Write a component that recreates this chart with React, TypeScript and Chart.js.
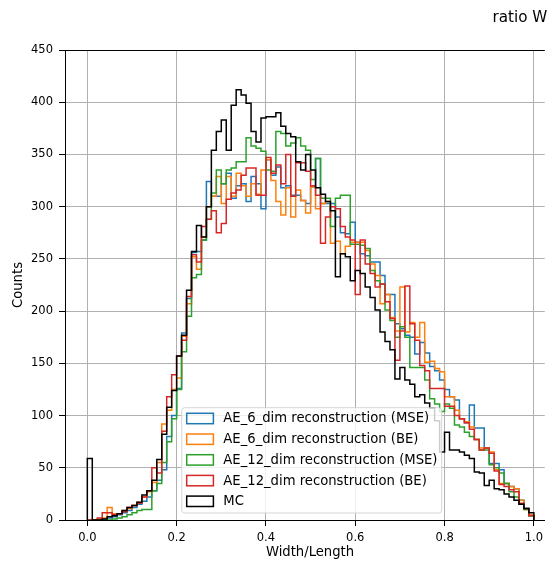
import React, { useEffect, useRef } from "react";
import { Chart, registerables } from "chart.js";

Chart.register(...registerables);

// ---- data (90 equal bins from 0 to 1) ----
const binStart = 0;
const binEnd = 1;

const seriesLabels = [
  "AE_6_dim reconstruction (MSE)",
  "AE_6_dim reconstruction (BE)",
  "AE_12_dim reconstruction (MSE)",
  "AE_12_dim reconstruction (BE)",
  "MC",
];

const seriesColors = ["#1f77b4", "#ff7f0e", "#2ca02c", "#d62728", "#000000"];

const ae6Mse = [
  0, 0, 0, 1, 2, 3, 5, 7, 9, 12, 15, 18, 22, 28, 38, 48, 80, 100,
  126, 179, 212, 256, 257, 268, 324, 310, 310, 322, 332, 308, 320, 322, 305, 329, 322,
  298, 345, 330, 338, 318, 320, 311, 311, 306, 303, 319, 346, 303, 303, 303, 290, 275, 274,
  285, 266, 255, 253, 247, 247, 234, 216, 216, 188, 183, 177, 175, 159, 170, 160, 147,
  143, 134, 125, 118, 115, 97, 93, 110, 88, 88, 69, 54, 54, 48, 35, 32, 30, 19, 11, 4,
];

const ae6Be = [
  0, 0, 1, 2, 12, 6, 6, 9, 11, 14, 17, 22, 27, 36, 55, 92, 105, 125,
  136, 176, 207, 252, 240, 271, 300, 310, 329, 303, 329, 310, 332, 320, 310, 322, 312,
  335, 345, 325, 305, 292, 318, 290, 316, 306, 294, 319, 298, 303, 305, 265, 267, 255, 262,
  266, 266, 266, 258, 245, 234, 207, 216, 194, 181, 223, 180, 189, 175, 189, 151, 152,
  145, 142, 118, 118, 105, 97, 94, 89, 77, 69, 69, 65, 48, 35, 35, 32, 30, 19, 10, 5,
];

const ae12Mse = [
  0, 0, 0, 0, 0, 1, 2, 3, 5, 7, 9, 10, 10, 28, 35, 55, 75, 97,
  125, 161, 195, 232, 235, 268, 288, 313, 335, 322, 335, 337, 343, 343, 366, 358, 356,
  353, 335, 334, 372, 370, 358, 361, 366, 358, 354, 326, 346, 308, 308, 281, 308, 311, 311,
  264, 264, 263, 260, 239, 229, 226, 201, 191, 175, 185, 175, 146, 146, 146, 134, 116,
  111, 104, 111, 107, 91, 89, 84, 80, 77, 67, 67, 53, 50, 45, 35, 27, 22, 15, 10, 4,
];

const ae12Be = [
  0, 0, 2, 7, 7, 5, 6, 8, 12, 14, 16, 22, 28, 50, 45, 85, 118, 139,
  157, 172, 214, 254, 247, 281, 288, 296, 275, 284, 307, 313, 316, 330, 337, 337, 311,
  311, 347, 332, 340, 322, 350, 310, 342, 342, 334, 320, 311, 265, 290, 300, 298, 281, 271,
  268, 216, 268, 245, 236, 223, 226, 209, 193, 153, 181, 224, 188, 172, 148, 143, 126,
  126, 126, 109, 109, 100, 97, 93, 87, 77, 67, 69, 64, 47, 34, 32, 29, 27, 16, 11, 4,
];

const mc = [
  59, 0, 0, 1, 3, 4, 6, 9, 12, 14, 17, 24, 28, 38, 58, 82, 108, 124,
  157, 177, 220, 257, 282, 271, 300, 354, 372, 383, 354, 397, 412, 407, 399, 372, 362,
  385, 386, 386, 390, 377, 370, 367, 343, 335, 350, 335, 318, 312, 305, 296, 233, 255, 252,
  229, 239, 236, 223, 213, 201, 180, 171, 163, 135, 146, 134, 130, 118, 120, 112, 107,
  95, 65, 84, 67, 67, 65, 62, 59, 46, 45, 33, 38, 30, 29, 25, 22, 19, 15, 11, 7,
];

const xTickValues = [0, 0.2, 0.4, 0.6, 0.8, 1.0];
const yTickValues = [0, 50, 100, 150, 200, 250, 300, 350, 400, 450];
const xLabel = "Width/Length";
const yLabel = "Counts";
const titleText = "ratio Width/Length";

// ---- styling ----
const FONT = "'DejaVu Sans', sans-serif";
const CANVAS_W = 540;
const CANVAS_H = 553;
const LABEL_SIZE = 13.2;
const TICK_SIZE = 11.5;
const TITLE_SIZE = 15.2;

function stepData(values: number[]) {
  const w = (binEnd - binStart) / values.length;
  const pts: { x: number; y: number }[] = [{ x: binStart, y: 0 }];
  values.forEach((v, i) => pts.push({ x: binStart + i * w, y: v }));
  pts.push({ x: binEnd, y: 0 });
  return pts;
}

export default function App() {
  const ref = useRef<HTMLCanvasElement>(null);

  useEffect(() => {
    document.documentElement.style.overflow = "hidden";
    document.body.style.margin = "0";
    const canvas = ref.current;
    if (!canvas) return;
    const seriesValues = [ae6Mse, ae6Be, ae12Mse, ae12Be, mc];

    const datasets = seriesValues.map((vals, i) => ({
      label: seriesLabels[i],
      data: stepData(vals),
      borderColor: seriesColors[i],
      backgroundColor: "rgba(0,0,0,0)",
      borderWidth: 1.5,
      pointRadius: 0,
      pointHoverRadius: 0,
      stepped: "before" as const,
      fill: false,
      tension: 0,
      order: seriesValues.length - 1 - i,
    }));

    const overlay = {
      id: "mplOverlay",
      afterDraw(chart: any) {
        const ctx = chart.ctx as CanvasRenderingContext2D;
        const ca = chart.chartArea;
        ctx.save();
        // top spine
        ctx.strokeStyle = "#000";
        ctx.lineWidth = 1;
        ctx.beginPath();
        ctx.moveTo(ca.left, Math.round(ca.top) + 0.5);
        ctx.lineTo(ca.right, Math.round(ca.top) + 0.5);
        ctx.stroke();

        // title (cut by the canvas edge as in the reference)
        ctx.fillStyle = "#000";
        ctx.font = `${TITLE_SIZE}px ${FONT}`;
        ctx.textAlign = "left";
        ctx.textBaseline = "middle";
        ctx.fillText(titleText, 484.5, 10.3);

        // x axis label, centred on the full (partly cut) axes
        ctx.font = `${LABEL_SIZE}px ${FONT}`;
        ctx.textAlign = "center";
        ctx.fillText(xLabel, 302, 545);

        // legend
        const lx = 173.7, ly = 399.7, lw = 260, lh = 105.3, r = 3;
        ctx.beginPath();
        ctx.moveTo(lx + r, ly);
        ctx.lineTo(lx + lw - r, ly);
        ctx.arcTo(lx + lw, ly, lx + lw, ly + r, r);
        ctx.lineTo(lx + lw, ly + lh - r);
        ctx.arcTo(lx + lw, ly + lh, lx + lw - r, ly + lh, r);
        ctx.lineTo(lx + r, ly + lh);
        ctx.arcTo(lx, ly + lh, lx, ly + lh - r, r);
        ctx.lineTo(lx, ly + r);
        ctx.arcTo(lx, ly, lx + r, ly, r);
        ctx.closePath();
        ctx.fillStyle = "rgba(255,255,255,0.8)";
        ctx.fill();
        ctx.strokeStyle = "rgba(204,204,204,0.8)";
        ctx.lineWidth = 1;
        ctx.stroke();

        ctx.font = `${LABEL_SIZE}px ${FONT}`;
        ctx.textAlign = "left";
        ctx.textBaseline = "middle";
        seriesLabels.forEach((label, i) => {
          const cy = 410.5 + i * 20.7;
          ctx.strokeStyle = seriesColors[i];
          ctx.lineWidth = 1.5;
          ctx.strokeRect(178.7, cy - 5.2, 26.7, 10.4);
          ctx.fillStyle = "#000";
          ctx.fillText(label, 215.3, cy + 0.5);
        });
        ctx.restore();
      },
    };

    const chart = new Chart(canvas, {
      type: "line",
      data: { datasets },
      options: {
        animation: false,
        responsive: false,
        devicePixelRatio: 1,
        events: [],
        layout: { padding: { top: 42, left: 0, right: 0, bottom: 0 } },
        plugins: {
          legend: { display: false },
          title: { display: false },
          tooltip: { enabled: false },
        },
        scales: {
          x: {
            type: "linear",
            min: -0.05,
            max: 1.0244,
            afterBuildTicks: (s: any) => {
              s.ticks = xTickValues.map((v) => ({ value: v }));
            },
            afterFit: (s: any) => {
              s.height = 41;
            },
            ticks: {
              autoSkip: false,
              maxRotation: 0,
              padding: 5,
              color: "#000",
              font: { family: FONT, size: TICK_SIZE },
              callback: (v: any) => Number(v).toFixed(1),
            },
            grid: {
              color: "#b0b0b0",
              lineWidth: 1,
              tickColor: "#000",
              tickLength: 6,
              drawTicks: true,
            },
            border: { display: true, color: "#000", width: 1 },
            title: { display: false },
          },
          y: {
            type: "linear",
            min: 0,
            max: 450,
            afterBuildTicks: (s: any) => {
              s.ticks = yTickValues.map((v) => ({ value: v }));
            },
            afterFit: (s: any) => {
              s.width = 57;
            },
            ticks: {
              autoSkip: false,
              padding: 6,
              color: "#000",
              font: { family: FONT, size: TICK_SIZE },
            },
            grid: {
              color: "#b0b0b0",
              lineWidth: 1,
              tickColor: "#000",
              tickLength: 6,
              drawTicks: true,
            },
            border: { display: true, color: "#000", width: 1 },
            title: {
              display: true,
              text: yLabel,
              color: "#000",
              font: { family: FONT, size: LABEL_SIZE },
              padding: { top: 2.4, bottom: 0 },
            },
          },
        },
      },
      plugins: [overlay],
    });

    return () => chart.destroy();
  }, []);

  return (
    <div style={{ padding: "8px 0 0 8px", width: CANVAS_W, height: CANVAS_H }}>
      <canvas
        ref={ref}
        width={CANVAS_W}
        height={CANVAS_H}
        style={{ display: "block", width: CANVAS_W, height: CANVAS_H }}
      />
    </div>
  );
}
